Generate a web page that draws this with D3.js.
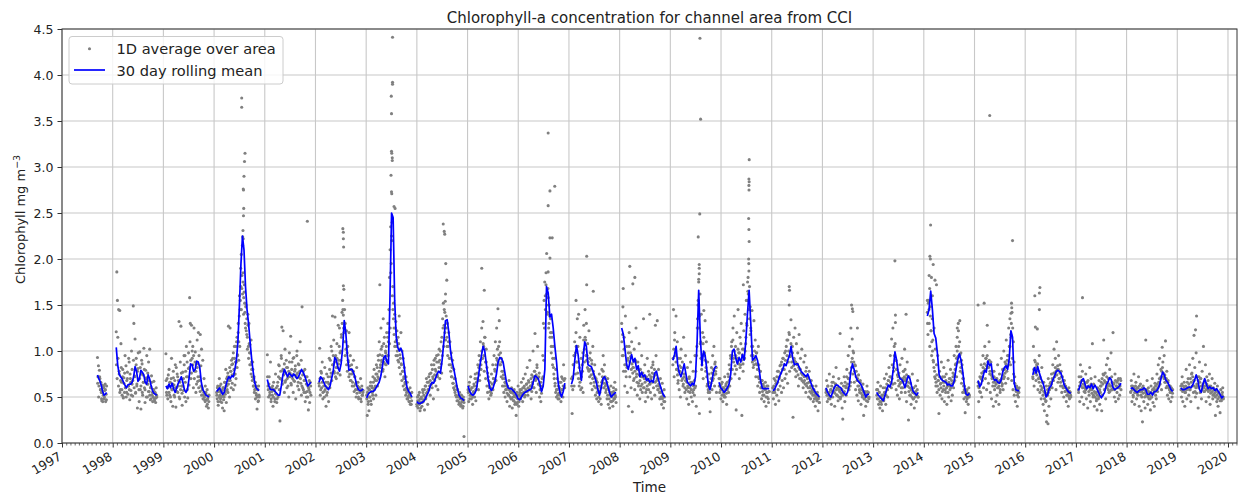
<!DOCTYPE html>
<html>
<head>
<meta charset="utf-8">
<script src="https://cdn.jsdelivr.net/npm/d3@7"></script>
<style>
  body { margin: 0; background: #fff; }
  text { font-family: "DejaVu Sans", sans-serif; fill: #222; }
</style>
</head>
<body>
<div id="chart"></div>
<script>
// segment limits (decimal years) of the 30 day rolling mean, gaps between them
const segStart = [1997.70, 1998.07, 1999.05, 2000.05, 2001.05, 2002.07, 2003.01, 2004.00, 2005.01, 2007.05, 2008.04,
                  2009.05, 2009.96, 2011.02, 2012.07, 2013.07, 2014.07, 2015.07, 2016.15, 2017.05, 2018.08, 2019.07];
const segEnd   = [1997.88, 1998.87, 1999.90, 2000.89, 2001.91, 2002.94, 2003.90, 2004.93, 2006.92, 2007.93, 2008.89,
                  2009.91, 2010.95, 2011.94, 2012.92, 2013.89, 2014.90, 2015.88, 2016.90, 2017.89, 2018.91, 2019.91];

// 30 day rolling mean, evenly spaced inside each segment
const mean1997 = [0.74, 0.70, 0.67, 0.62, 0.56, 0.52, 0.53, 0.55];
const mean1998 = [1.04, 0.85, 0.75, 0.72, 0.70, 0.66, 0.63, 0.60, 0.63, 0.64, 0.64, 0.66, 0.72, 0.83, 0.78, 0.67, 0.70, 0.79, 0.77, 0.74, 0.66, 0.64, 0.74, 0.70, 0.63, 0.57, 0.54, 0.53, 0.52];
const mean1999 = [0.62, 0.59, 0.64, 0.60, 0.65, 0.59, 0.55, 0.60, 0.65, 0.68, 0.72, 0.66, 0.58, 0.55, 0.58, 0.70, 0.86, 0.85, 0.78, 0.80, 0.89, 0.88, 0.82, 0.66, 0.58, 0.55, 0.52, 0.51, 0.50];
const mean2000 = [0.56, 0.58, 0.60, 0.56, 0.53, 0.55, 0.62, 0.68, 0.72, 0.70, 0.73, 0.72, 0.80, 0.90, 1.10, 1.50, 1.95, 2.25, 2.10, 1.70, 1.45, 1.30, 1.10, 0.92, 0.78, 0.66, 0.60, 0.58, 0.57];
const mean2001 = [0.69, 0.62, 0.58, 0.58, 0.58, 0.56, 0.54, 0.52, 0.52, 0.62, 0.74, 0.80, 0.76, 0.72, 0.76, 0.74, 0.72, 0.75, 0.73, 0.70, 0.72, 0.76, 0.80, 0.77, 0.73, 0.68, 0.62, 0.64, 0.66];
const mean2002 = [0.66, 0.72, 0.70, 0.66, 0.62, 0.60, 0.58, 0.62, 0.70, 0.78, 0.93, 0.90, 0.82, 0.78, 0.86, 1.03, 1.33, 1.20, 0.95, 0.79, 0.80, 0.80, 0.76, 0.70, 0.62, 0.58, 0.57, 0.57, 0.59];
const mean2003 = [0.49, 0.53, 0.55, 0.56, 0.56, 0.57, 0.60, 0.63, 0.66, 0.72, 0.82, 0.93, 0.95, 0.88, 0.86, 1.60, 2.50, 2.45, 1.55, 1.15, 1.04, 1.00, 1.03, 0.98, 0.85, 0.70, 0.60, 0.56, 0.54, 0.50];
const mean2004 = [0.45, 0.43, 0.43, 0.44, 0.45, 0.48, 0.52, 0.56, 0.62, 0.66, 0.65, 0.70, 0.75, 0.78, 0.76, 0.90, 1.10, 1.33, 1.34, 1.20, 1.00, 0.88, 0.80, 0.70, 0.60, 0.52, 0.49, 0.48, 0.46];
const mean2005 = [0.62, 0.56, 0.53, 0.52, 0.54, 0.58, 0.70, 0.83, 0.95, 1.05, 1.00, 0.85, 0.70, 0.60, 0.57, 0.60, 0.66, 0.75, 0.88, 0.93,
                  0.92, 0.88, 0.77, 0.66, 0.60, 0.59, 0.59, 0.57, 0.55, 0.52, 0.48, 0.47, 0.50, 0.53, 0.55, 0.56, 0.57, 0.58, 0.59, 0.66,
                  0.73, 0.72, 0.70, 0.64, 0.56, 0.62, 0.80, 1.70, 1.63, 1.37, 1.40, 1.25, 1.05, 0.88, 0.65, 0.55, 0.50, 0.56, 0.65];
const mean2007 = [0.64, 0.70, 0.90, 1.06, 0.96, 0.80, 0.68, 0.92, 1.10, 1.05, 0.85, 0.84, 0.83, 0.78, 0.72, 0.66, 0.58, 0.52, 0.60, 0.70, 0.72, 0.68, 0.62, 0.55, 0.50, 0.52, 0.54, 0.55];
const mean2008 = [1.25, 1.18, 1.02, 0.85, 0.80, 0.88, 0.96, 0.88, 0.92, 0.80, 0.84, 0.72, 0.77, 0.72, 0.74, 0.68, 0.70, 0.66, 0.68, 0.66, 0.76, 0.78, 0.70, 0.64, 0.58, 0.53, 0.50];
const mean2009 = [0.90, 0.96, 1.05, 0.85, 0.76, 0.72, 0.78, 0.86, 0.76, 0.66, 0.64, 0.62, 0.65, 0.63, 0.72, 1.10, 1.66, 1.15, 0.84, 1.00, 0.95, 0.80, 0.62, 0.58, 0.66, 0.76, 0.82, 0.84];
const mean2010 = [0.66, 0.60, 0.58, 0.55, 0.57, 0.60, 0.64, 0.75, 1.00, 1.02, 0.92, 0.86, 0.93, 0.88, 0.96, 0.90, 1.10, 1.40, 1.66, 1.30, 0.90, 0.92, 0.95, 0.90, 0.80, 0.66, 0.59, 0.59, 0.59, 0.59, 0.59];
const mean2011 = [0.57, 0.58, 0.62, 0.66, 0.72, 0.76, 0.80, 0.86, 0.84, 0.90, 0.95, 1.05, 0.92, 0.85, 0.86, 0.86, 0.82, 0.78, 0.76, 0.74, 0.72, 0.75, 0.70, 0.65, 0.60, 0.57, 0.54, 0.52, 0.50];
const mean2012 = [0.60, 0.55, 0.52, 0.50, 0.55, 0.60, 0.63, 0.63, 0.61, 0.60, 0.56, 0.54, 0.52, 0.55, 0.62, 0.78, 0.86, 0.80, 0.72, 0.68, 0.66, 0.64, 0.60, 0.55, 0.50, 0.53, 0.53];
const mean2013 = [0.55, 0.52, 0.50, 0.48, 0.46, 0.52, 0.58, 0.63, 0.61, 0.66, 0.80, 0.99, 0.90, 0.76, 0.70, 0.69, 0.66, 0.60, 0.67, 0.73, 0.70, 0.62, 0.56, 0.54, 0.52, 0.55];
const mean2014 = [1.38, 1.45, 1.65, 1.45, 1.19, 1.14, 0.97, 0.74, 0.70, 0.68, 0.67, 0.66, 0.63, 0.64, 0.62, 0.62, 0.68, 0.80, 0.90, 0.97, 0.90, 0.78, 0.62, 0.53, 0.52, 0.54];
const mean2015 = [0.68, 0.61, 0.64, 0.72, 0.79, 0.77, 0.89, 0.84, 0.86, 0.72, 0.68, 0.69, 0.66, 0.65, 0.68, 0.77, 0.82, 0.84, 0.80, 0.92, 1.22, 1.15, 0.65, 0.58, 0.57, 0.57];
const mean2016 = [0.74, 0.82, 0.76, 0.83, 0.76, 0.70, 0.66, 0.60, 0.50, 0.53, 0.60, 0.62, 0.68, 0.72, 0.77, 0.79, 0.78, 0.76, 0.70, 0.63, 0.60, 0.57, 0.55, 0.54];
const mean2017 = [0.57, 0.62, 0.68, 0.70, 0.64, 0.59, 0.62, 0.60, 0.64, 0.59, 0.63, 0.60, 0.56, 0.52, 0.49, 0.52, 0.55, 0.63, 0.66, 0.71, 0.69, 0.61, 0.58, 0.59, 0.60, 0.62, 0.65];
const mean2018 = [0.59, 0.60, 0.58, 0.56, 0.55, 0.57, 0.58, 0.58, 0.60, 0.58, 0.53, 0.53, 0.55, 0.52, 0.56, 0.56, 0.58, 0.62, 0.70, 0.77, 0.74, 0.68, 0.66, 0.62, 0.58, 0.56];
const mean2019 = [0.60, 0.58, 0.58, 0.59, 0.60, 0.61, 0.60, 0.63, 0.68, 0.74, 0.68, 0.58, 0.55, 0.64, 0.70, 0.64, 0.59, 0.61, 0.59, 0.60, 0.57, 0.59, 0.56, 0.53, 0.49, 0.51];

// 1D average over area, evenly spaced inside each segment
const daily1997 = [0.93, 0.72, 0.84, 0.62, 0.79, 0.70, 0.58, 0.66, 0.55, 0.46, 0.63, 0.45, 0.52, 0.60, 0.48, 0.57, 0.64, 0.45, 0.53, 0.62];
const daily1998 = [1.21, 1.86, 1.55, 0.92, 1.45, 0.75, 1.44, 0.58, 1.08, 0.66, 0.52, 0.80, 0.49, 0.71, 0.55, 0.95, 0.60, 0.50, 0.68, 0.77,
                   0.53, 0.62, 0.88, 0.47, 0.70, 0.57, 1.00, 0.64, 0.51, 1.49, 1.30, 0.73, 1.13, 0.55, 0.92, 0.62, 0.38, 0.81, 0.69, 0.45,
                   0.99, 0.58, 0.37, 0.75, 0.86, 0.52, 0.66, 1.03, 0.60, 0.44, 0.79, 0.71, 0.95, 0.50, 0.64, 0.88, 0.56, 1.02, 0.47, 0.61,
                   0.73, 0.52, 0.45, 0.58, 0.67, 0.48, 0.55, 0.44, 0.60, 0.50];
const daily1999 = [0.97, 0.55, 0.70, 0.48, 0.62, 0.80, 0.52, 0.66, 0.45, 0.92, 0.58, 0.40, 0.71, 0.63, 0.50, 0.85, 0.39, 0.60, 0.75, 0.55,
                   0.68, 1.32, 0.48, 0.88, 1.27, 0.62, 0.41, 0.77, 0.57, 0.95, 0.50, 0.66, 0.45, 0.72, 0.58, 0.49, 0.81, 0.63, 1.58, 1.30,
                   0.70, 1.28, 0.92, 1.05, 0.60, 1.25, 0.78, 0.99, 0.55, 0.86, 1.12, 0.67, 1.20, 0.95, 0.72, 1.18, 0.84, 1.02, 0.60, 0.90,
                   0.52, 0.70, 0.47, 0.62, 0.55, 0.40, 0.58, 0.48, 0.38, 0.52];
const daily2000 = [0.55, 0.48, 0.62, 0.41, 0.58, 0.70, 0.52, 0.45, 0.64, 0.50, 0.57, 0.38, 0.60, 0.47, 0.35, 0.66, 0.53, 0.80, 0.44, 0.62,
                   0.72, 0.55, 1.27, 0.68, 0.50, 1.25, 0.78, 0.60, 0.85, 0.65, 0.92, 0.58, 0.74, 1.05, 0.63, 0.88, 0.70, 1.10, 0.82, 0.96,
                   1.20, 0.90, 1.38, 1.05, 1.55, 1.70, 1.45, 1.82, 1.62, 1.75, 1.40, 1.64, 1.52, 1.30, 1.48, 1.22, 1.35, 1.15, 1.40, 1.05,
                   1.30, 0.98, 1.07, 0.85, 1.12, 0.80, 0.72, 0.88, 0.62, 0.70, 0.55, 0.66, 0.48, 0.60, 0.52, 0.37, 0.58, 0.45, 0.62, 0.50];
const daily2001 = [0.96, 0.62, 0.50, 0.72, 0.55, 0.88, 0.45, 0.60, 0.52, 0.40, 0.66, 0.57, 0.48, 0.75, 0.53, 0.44, 0.62, 0.50, 0.85, 0.58,
                   0.24, 0.70, 0.95, 1.26, 0.64, 1.22, 0.78, 0.55, 1.02, 0.68, 0.90, 0.60, 0.82, 0.72, 0.50, 0.98, 0.76, 1.16, 0.63, 0.88,
                   0.70, 0.55, 0.93, 0.67, 0.80, 0.48, 0.74, 1.00, 0.62, 0.86, 0.58, 0.71, 1.10, 0.65, 0.52, 1.48, 0.60, 0.78, 0.55, 0.68,
                   0.45, 0.72, 0.50, 0.56, 0.62, 0.36, 0.58, 0.44, 0.66, 0.52];
const daily2002 = [0.65, 1.03, 0.52, 0.78, 0.60, 0.88, 0.48, 0.70, 0.56, 0.82, 0.62, 0.40, 0.75, 0.55, 0.66, 0.45, 0.92, 0.60, 0.72, 1.05,
                   0.68, 1.38, 0.85, 1.12, 0.76, 1.37, 0.95, 0.70, 1.08, 0.82, 1.28, 0.90, 1.25, 0.74, 1.00, 1.15, 1.42, 1.55, 1.39, 1.20,
                   1.45, 1.30, 1.10, 1.22, 0.98, 1.05, 0.88, 1.20, 0.75, 0.95, 0.68, 0.85, 0.62, 0.78, 0.90, 0.56, 0.72, 0.64, 0.50, 0.82,
                   0.58, 0.66, 0.48, 0.60, 0.55, 0.70, 0.45, 0.62, 0.52, 0.57];
const daily2003 = [0.52, 0.30, 0.60, 0.45, 0.35, 0.58, 0.50, 0.66, 0.42, 0.62, 0.55, 0.72, 0.48, 0.80, 0.60, 0.68, 0.52, 0.85, 0.75, 0.62,
                   0.95, 0.70, 1.10, 1.72, 0.82, 1.25, 0.90, 1.05, 0.78, 1.35, 0.88, 1.15, 0.72, 1.00, 0.85, 1.20, 0.95, 1.30, 1.10, 1.45,
                   1.80, 2.10, 2.35, 1.95, 2.20, 1.60, 1.45, 1.52, 1.25, 1.40, 1.10, 1.32, 1.05, 1.22, 0.95, 1.15, 0.88, 1.38, 1.02, 0.92,
                   1.20, 0.85, 1.00, 0.78, 0.92, 0.70, 0.82, 0.64, 0.58, 0.72, 0.55, 0.66, 0.48, 0.58, 0.52, 0.45, 0.60, 0.50, 0.42, 0.55];
const daily2004 = [0.42, 0.50, 0.38, 0.46, 0.55, 0.35, 0.44, 0.48, 0.40, 0.58, 0.45, 0.52, 0.36, 0.62, 0.48, 0.70, 0.55, 0.42, 0.66, 0.58,
                   0.75, 0.52, 0.64, 0.85, 0.60, 0.72, 0.48, 0.90, 0.68, 0.80, 0.62, 0.95, 0.74, 0.58, 0.88, 1.02, 0.70, 0.82, 1.10, 0.76,
                   0.95, 1.25, 1.05, 1.45, 1.20, 1.62, 1.38, 1.15, 1.30, 1.05, 1.20, 0.92, 1.10, 0.85, 0.98, 0.72, 0.90, 0.65, 0.80, 0.58,
                   0.70, 0.52, 0.62, 0.46, 0.58, 0.50, 0.42, 0.55, 0.48, 0.40, 0.52, 0.45, 0.38, 0.50, 0.44];
const daily2005 = [0.58, 0.45, 0.66, 0.52, 0.72, 0.48, 0.60, 0.42, 0.55, 0.64, 0.50, 0.75, 0.46, 0.62, 0.70, 0.85, 0.58, 0.95, 0.68, 1.10,
                   0.80, 1.25, 0.92, 1.32, 1.05, 0.78, 1.15, 0.70, 0.88, 0.62, 0.55, 0.72, 0.48, 0.60, 0.66, 0.52, 0.75, 0.58, 0.85, 0.70,
                   0.95, 0.80, 1.10, 0.68, 1.25, 0.90, 1.46, 1.05, 1.33, 0.85, 0.98, 0.72, 0.88, 0.62, 0.78, 0.55, 0.70, 0.50, 0.65, 0.58,
                   0.45, 0.62, 0.52, 0.68, 0.40, 0.56, 0.48, 0.60, 0.38, 0.54, 0.46, 0.58, 0.42, 0.50, 0.30, 0.55, 0.44, 0.62, 0.40, 0.52,
                   0.58, 0.48, 0.66, 0.54, 0.45, 0.70, 0.60, 0.50, 0.75, 0.56, 0.64, 0.82, 0.52, 0.68, 0.58, 0.90, 0.62, 0.48, 0.74, 0.66,
                   1.00, 0.60, 0.78, 1.19, 0.70, 0.55, 0.85, 1.05, 0.64, 0.72, 0.50, 0.62, 0.45, 0.58, 0.70, 0.95, 1.30, 1.55, 1.75, 1.45,
                   1.85, 1.62, 1.40, 1.68, 1.25, 1.50, 1.15, 1.35, 0.98, 1.20, 0.85, 1.05, 0.75, 0.92, 0.65, 0.80, 0.58, 0.70, 0.52, 0.62,
                   0.48, 0.66, 0.55, 0.45, 0.72, 0.58, 0.50, 0.85, 0.62, 0.70];
const daily2007 = [0.70, 0.32, 0.58, 0.85, 0.62, 0.95, 0.75, 1.20, 0.88, 1.35, 1.05, 1.40, 0.82, 1.15, 0.70, 0.92, 0.60, 0.78, 0.55, 1.28,
                   0.88, 1.45, 1.12, 1.30, 0.95, 1.08, 0.80, 1.22, 0.72, 0.98, 0.65, 0.90, 0.58, 1.05, 0.75, 0.62, 0.85, 0.52, 0.70, 0.48,
                   0.66, 0.58, 0.45, 0.75, 0.55, 0.62, 0.42, 0.80, 0.68, 0.95, 0.60, 0.85, 0.72, 0.55, 0.64, 0.48, 0.70, 0.42, 0.58, 0.38,
                   0.52, 0.62, 0.45, 0.55, 0.40, 0.60, 0.48, 0.66, 0.50, 0.44];
const daily2008 = [1.30, 0.95, 1.48, 0.78, 1.15, 0.62, 1.38, 0.85, 1.05, 0.55, 0.92, 0.40, 1.20, 0.72, 0.98, 0.60, 1.10, 0.34, 0.82, 0.68,
                   1.02, 0.58, 0.90, 1.25, 0.75, 0.52, 0.88, 0.65, 1.08, 0.48, 0.80, 0.62, 0.95, 0.55, 0.72, 1.35, 0.60, 0.85, 0.45, 0.70,
                   0.58, 0.92, 0.50, 0.78, 0.64, 1.40, 0.55, 0.72, 0.48, 0.66, 0.85, 0.60, 0.75, 0.52, 1.28, 0.95, 0.68, 1.33, 0.58, 0.80,
                   0.62, 0.48, 0.70, 0.55, 0.42, 0.65, 0.50, 0.38, 0.58, 0.45];
const daily2009 = [0.85, 1.45, 0.72, 1.20, 0.95, 1.38, 0.80, 1.10, 0.65, 0.92, 0.58, 0.78, 0.50, 1.02, 0.68, 0.88, 0.62, 1.15, 0.75, 0.55,
                   0.95, 0.70, 0.48, 0.82, 0.60, 0.42, 0.72, 0.55, 0.88, 0.50, 0.66, 0.45, 0.78, 0.58, 0.52, 0.95, 0.62, 0.40, 1.05, 1.35,
                   1.55, 1.25, 0.32, 1.62, 1.10, 1.40, 0.85, 1.20, 0.70, 1.44, 0.95, 1.33, 0.78, 1.10, 0.62, 0.88, 0.55, 0.75, 0.48, 0.34,
                   0.65, 0.82, 0.58, 0.95, 0.70, 1.05, 0.62, 0.88, 0.75, 0.55];
const daily2010 = [0.70, 0.55, 0.62, 0.48, 0.58, 0.66, 0.45, 0.60, 0.52, 0.72, 0.50, 0.64, 0.42, 0.58, 0.75, 0.55, 0.85, 0.62, 0.95, 0.70,
                   1.10, 0.80, 1.25, 0.92, 1.38, 0.75, 1.05, 0.36, 1.20, 0.88, 1.45, 0.98, 0.70, 1.15, 0.85, 1.30, 0.30, 1.02, 0.78, 1.22,
                   0.92, 1.40, 1.08, 1.55, 1.28, 1.75, 1.62, 1.45, 1.35, 1.18, 1.25, 0.95, 1.44, 1.05, 0.82, 1.33, 0.90, 1.12, 0.72, 0.98,
                   0.85, 0.62, 1.05, 0.70, 0.55, 0.78, 0.60, 0.48, 0.68, 0.52, 0.62, 0.45, 0.58, 0.66, 0.40, 0.55, 0.50, 0.62, 0.44, 0.56];
const daily2011 = [0.60, 0.48, 0.70, 0.55, 0.42, 0.65, 0.52, 0.78, 0.58, 0.46, 0.72, 0.62, 0.85, 0.55, 0.68, 0.92, 0.60, 0.80, 0.70, 1.00,
                   0.75, 1.12, 0.65, 0.88, 1.20, 0.78, 0.95, 1.34, 0.82, 1.05, 0.28, 1.15, 0.90, 1.25, 0.72, 1.08, 0.85, 0.98, 0.62, 1.18,
                   0.80, 0.92, 0.70, 1.02, 0.75, 0.60, 0.88, 0.68, 0.95, 0.55, 0.82, 0.65, 0.72, 0.50, 0.78, 0.60, 0.48, 0.68, 0.55, 0.62,
                   0.45, 0.58, 0.52, 0.40, 0.62, 0.48, 0.55, 0.35, 0.50, 0.44];
const daily2012 = [0.55, 0.68, 0.45, 0.62, 0.52, 0.75, 0.48, 0.58, 0.42, 0.66, 0.50, 0.72, 0.56, 0.40, 0.64, 0.82, 0.52, 0.60, 0.46, 0.70,
                   0.58, 1.19, 0.50, 0.65, 0.38, 0.26, 0.55, 0.72, 0.45, 0.62, 0.52, 0.80, 0.60, 0.95, 0.70, 1.05, 0.62, 1.25, 0.88, 1.13,
                   0.75, 0.98, 0.66, 0.85, 0.58, 0.78, 0.52, 0.70, 0.46, 0.62, 0.55, 0.68, 0.42, 0.58, 0.50, 0.64, 0.30, 0.48, 0.56, 0.40,
                   0.52, 0.62, 0.45, 0.55, 0.50];
const daily2013 = [0.58, 0.48, 0.66, 0.42, 0.55, 0.38, 0.62, 0.45, 0.52, 0.35, 0.60, 0.48, 0.70, 0.55, 0.42, 0.75, 0.58, 0.50, 0.68, 0.82,
                   0.62, 0.95, 0.72, 1.13, 0.85, 1.25, 0.78, 1.05, 0.65, 0.90, 0.58, 0.80, 0.52, 0.72, 0.62, 0.48, 0.85, 0.66, 0.55, 0.92,
                   0.60, 0.78, 0.68, 1.02, 0.55, 0.70, 0.45, 0.88, 0.62, 0.25, 0.72, 0.52, 0.65, 0.42, 0.58, 0.75, 0.48, 0.60, 0.38, 0.55,
                   0.62, 0.45, 0.52, 0.68, 0.50];
const daily2014 = [1.42, 1.18, 1.55, 1.30, 1.05, 1.48, 1.22, 0.95, 1.35, 1.12, 0.88, 1.25, 0.72, 1.02, 0.62, 0.85, 0.55, 0.95, 0.68, 0.32,
                   0.78, 0.52, 0.65, 0.88, 0.48, 0.72, 0.58, 0.82, 0.45, 0.66, 0.55, 0.75, 0.42, 0.62, 0.90, 0.50, 0.70, 0.58, 0.80, 0.46,
                   0.64, 0.52, 0.76, 0.60, 0.95, 0.68, 0.85, 1.05, 0.72, 1.15, 0.88, 1.22, 0.95, 1.10, 0.78, 0.98, 0.65, 0.85, 0.55, 0.70,
                   0.48, 0.62, 0.33, 0.55, 0.45, 0.58, 0.50, 0.42, 0.60, 0.52];
const daily2015 = [0.62, 0.45, 0.28, 0.72, 0.55, 0.85, 0.50, 0.68, 0.95, 0.60, 0.78, 1.05, 0.70, 0.92, 0.58, 1.28, 0.82, 0.65, 1.10, 0.75,
                   0.55, 0.88, 0.48, 0.72, 0.62, 0.40, 0.78, 0.58, 0.66, 0.45, 0.70, 0.52, 0.85, 0.60, 0.42, 0.75, 0.55, 0.68, 0.92, 0.62,
                   0.80, 0.58, 1.00, 0.72, 0.88, 0.65, 1.12, 0.78, 0.95, 0.70, 1.25, 1.05, 1.35, 0.85, 1.15, 0.68, 0.92, 0.58, 0.75, 0.52,
                   0.65, 0.45, 0.58, 0.62, 0.40, 0.55, 0.50, 0.60];
const daily2016 = [0.72, 1.05, 0.62, 0.90, 1.26, 0.68, 0.85, 1.24, 0.58, 0.78, 0.95, 0.55, 0.70, 0.48, 0.82, 0.60, 0.42, 0.66, 0.35, 0.55,
                   0.45, 0.62, 0.30, 0.52, 0.70, 0.40, 0.58, 0.65, 0.48, 0.75, 0.60, 0.85, 0.68, 1.02, 0.72, 0.92, 0.58, 1.10, 0.80, 0.66,
                   0.95, 0.70, 0.85, 0.62, 0.78, 0.55, 0.72, 0.60, 0.50, 0.68, 0.56, 0.62, 0.45, 0.58, 0.52, 0.40, 0.60, 0.48, 0.55, 0.50];
const daily2017 = [0.58, 0.72, 0.45, 0.85, 0.62, 0.50, 0.78, 0.68, 0.42, 0.60, 0.55, 0.75, 0.48, 0.66, 0.38, 0.62, 0.52, 0.82, 0.45, 0.70,
                   0.58, 1.08, 0.50, 0.64, 0.40, 0.72, 0.55, 0.46, 0.36, 0.60, 0.48, 0.68, 0.42, 0.55, 0.62, 0.35, 0.52, 0.75, 1.12, 0.58,
                   0.66, 0.48, 0.85, 0.60, 0.92, 0.70, 0.55, 0.80, 0.62, 0.98, 0.72, 0.58, 1.20, 0.65, 0.50, 0.75, 0.45, 0.62, 0.55, 0.68,
                   0.48, 0.60, 0.52, 0.70, 0.58];
const daily2018 = [0.55, 0.68, 0.45, 0.62, 0.50, 0.75, 0.42, 0.58, 0.66, 0.48, 0.60, 0.52, 0.72, 0.40, 0.56, 0.64, 0.35, 0.50, 0.23, 0.62,
                   0.45, 0.58, 0.38, 1.12, 0.52, 0.68, 0.42, 0.60, 0.48, 0.55, 0.36, 0.62, 0.50, 0.70, 0.44, 0.58, 0.40, 0.65, 0.52, 0.48,
                   0.75, 0.56, 0.85, 0.62, 0.92, 0.70, 0.80, 0.58, 1.04, 0.88, 0.72, 0.95, 0.66, 1.11, 0.60, 0.78, 0.52, 0.68, 0.48, 0.62,
                   0.55, 0.45, 0.60, 0.50, 0.58];
const daily2019 = [0.62, 0.50, 0.72, 0.45, 0.58, 0.66, 0.40, 0.55, 0.80, 0.48, 0.60, 0.70, 0.52, 0.85, 0.58, 0.45, 0.75, 0.62, 0.92, 0.55,
                   0.68, 0.82, 0.50, 0.98, 0.64, 0.72, 0.38, 0.60, 0.88, 0.55, 0.70, 0.48, 0.78, 0.62, 1.05, 0.56, 0.66, 0.85, 0.45, 0.72,
                   0.58, 0.68, 0.50, 0.75, 0.42, 0.62, 0.55, 0.70, 0.48, 0.60, 0.52, 0.65, 0.30, 0.58, 0.45, 0.62, 0.40, 0.55, 0.50, 0.33,
                   0.58, 0.46, 0.52, 0.60, 0.48];

// more daily values from the dense core of each cloud, also evenly spaced per segment
const core1997 = [0.65, 0.50, 0.72, 0.58, 0.48, 0.55, 0.62, 0.50, 0.58, 0.47];
const core1998 = [0.85, 0.70, 1.15, 0.62, 0.78, 0.55, 0.68, 0.82, 0.58, 0.72, 0.50, 0.65, 0.76, 0.60, 0.84, 0.55, 0.70, 0.62, 0.92, 0.58,
                  0.75, 0.66, 0.52, 0.80, 0.68, 0.90, 0.60, 0.72, 0.54, 0.85, 0.64, 0.78, 0.98, 0.58, 0.70, 0.82, 0.62, 0.90, 0.55, 0.74,
                  0.66, 0.80, 0.58, 0.70, 0.50, 0.64, 0.76, 0.56, 0.68, 0.52, 0.60, 0.48, 0.66, 0.55, 0.50, 0.58, 0.46, 0.54, 0.49, 0.52];
const core1999 = [0.68, 0.52, 0.60, 0.74, 0.55, 0.66, 0.50, 0.70, 0.58, 0.64, 0.78, 0.52, 0.68, 0.60, 0.82, 0.56, 0.72, 0.62, 0.50, 0.66,
                  0.58, 0.76, 0.54, 0.62, 0.70, 0.85, 0.95, 0.78, 1.05, 0.88, 0.72, 0.98, 0.82, 1.10, 0.90, 0.76, 1.00, 0.85, 0.95, 0.70,
                  0.88, 0.78, 0.64, 0.82, 0.72, 0.60, 0.68, 0.56, 0.62, 0.52, 0.58, 0.48, 0.55, 0.50, 0.45, 0.53, 0.47, 0.42, 0.50, 0.45];
const core2000 = [0.52, 0.60, 0.45, 0.56, 0.50, 0.62, 0.48, 0.55, 0.44, 0.58, 0.52, 0.60, 0.50, 0.66, 0.56, 0.62, 0.70, 0.58, 0.76, 0.64,
                  0.72, 0.82, 0.68, 0.78, 0.90, 0.74, 0.86, 0.98, 0.80, 0.92, 0.75, 1.05, 0.88, 1.15, 0.95, 1.30, 1.10, 1.60, 1.45, 1.90,
                  2.05, 1.68, 2.15, 1.85, 1.58, 1.72, 1.42, 1.25, 1.50, 1.18, 1.02, 1.28, 0.92, 1.08, 0.85, 0.98, 0.75, 0.88, 0.68, 0.80,
                  0.62, 0.72, 0.58, 0.66, 0.54, 0.62, 0.50, 0.58, 0.46, 0.52];
const core2001 = [0.72, 0.58, 0.64, 0.52, 0.60, 0.48, 0.56, 0.62, 0.50, 0.58, 0.45, 0.54, 0.60, 0.48, 0.66, 0.72, 0.84, 0.70, 0.78, 0.92,
                  0.68, 0.80, 0.74, 0.86, 0.66, 0.76, 0.82, 0.70, 0.62, 0.78, 0.88, 0.72, 0.65, 0.80, 0.74, 0.92, 0.68, 0.78, 0.84, 0.72,
                  0.95, 0.76, 0.66, 0.85, 0.78, 0.70, 0.90, 0.62, 0.74, 0.58, 0.68, 0.80, 0.55, 0.64, 0.72, 0.50, 0.60, 0.68, 0.55, 0.62];
const core2002 = [0.62, 0.70, 0.58, 0.76, 0.66, 0.55, 0.62, 0.50, 0.58, 0.66, 0.52, 0.60, 0.72, 0.64, 0.80, 0.90, 0.76, 1.00, 0.85, 0.95,
                  0.78, 0.88, 0.72, 0.82, 0.92, 0.76, 0.86, 1.05, 0.98, 0.90, 1.18, 1.30, 1.45, 1.25, 1.10, 0.95, 1.02, 0.85, 0.78, 0.90,
                  0.72, 0.84, 0.68, 0.80, 0.75, 0.66, 0.78, 0.62, 0.72, 0.58, 0.66, 0.54, 0.62, 0.50, 0.60, 0.56, 0.48, 0.58, 0.52, 0.55];
const core2003 = [0.48, 0.55, 0.42, 0.58, 0.50, 0.62, 0.46, 0.56, 0.60, 0.52, 0.66, 0.58, 0.70, 0.62, 0.75, 0.68, 0.82, 0.72, 0.90, 0.78,
                  0.96, 0.85, 1.02, 0.88, 0.95, 0.80, 1.08, 0.92, 0.86, 0.98, 1.05, 0.90, 1.15, 0.95, 1.20, 1.08, 1.25, 1.85, 2.25, 2.40,
                  1.70, 1.35, 1.18, 1.05, 1.25, 0.95, 1.12, 1.00, 0.90, 1.08, 0.82, 0.96, 0.75, 0.86, 0.68, 0.78, 0.62, 0.72, 0.58, 0.66,
                  0.52, 0.60, 0.48, 0.56, 0.50, 0.45, 0.54, 0.42, 0.50, 0.46];
const core2004 = [0.40, 0.46, 0.52, 0.42, 0.48, 0.38, 0.50, 0.44, 0.55, 0.47, 0.58, 0.50, 0.62, 0.54, 0.66, 0.58, 0.72, 0.62, 0.68, 0.76,
                  0.64, 0.80, 0.70, 0.85, 0.74, 0.92, 0.78, 0.88, 0.72, 0.96, 0.82, 0.90, 1.00, 0.86, 1.15, 1.35, 1.52, 1.28, 1.42, 1.12,
                  1.25, 1.05, 0.95, 1.10, 0.85, 0.92, 0.78, 0.72, 0.82, 0.65, 0.60, 0.70, 0.55, 0.62, 0.50, 0.58, 0.46, 0.52, 0.44, 0.50,
                  0.42, 0.48, 0.45, 0.40, 0.47];
const core2005 = [0.55, 0.62, 0.48, 0.58, 0.52, 0.60, 0.50, 0.56, 0.62, 0.70, 0.58, 0.66, 0.76, 0.68, 0.82, 0.74, 0.90, 0.85, 1.00, 0.92,
                  1.08, 0.95, 1.15, 0.88, 1.02, 0.82, 0.76, 0.68, 0.62, 0.56, 0.60, 0.54, 0.64, 0.58, 0.70, 0.66, 0.78, 0.85, 0.92, 1.02,
                  0.88, 0.96, 1.10, 0.85, 0.92, 0.78, 0.70, 0.74, 0.62, 0.66, 0.58, 0.62, 0.54, 0.60, 0.52, 0.58, 0.50, 0.55, 0.48, 0.56,
                  0.50, 0.46, 0.52, 0.44, 0.50, 0.42, 0.48, 0.52, 0.45, 0.55, 0.50, 0.58, 0.52, 0.60, 0.55, 0.62, 0.52, 0.58, 0.64, 0.56,
                  0.60, 0.66, 0.58, 0.62, 0.70, 0.56, 0.64, 0.72, 0.60, 0.78, 0.68, 0.74, 0.82, 0.70, 0.64, 0.76, 0.58, 0.66, 0.54, 0.62,
                  0.72, 0.90, 1.25, 1.60, 1.72, 1.50, 1.42, 1.58, 1.30, 1.38, 1.20, 1.05, 1.15, 0.92, 0.82, 0.70, 0.62, 0.55, 0.50, 0.58,
                  0.48, 0.54, 0.60, 0.52, 0.66, 0.58, 0.70, 0.62, 0.68, 0.60];
const core2007 = [0.62, 0.72, 0.85, 0.95, 1.10, 0.98, 1.05, 0.88, 0.76, 0.70, 0.62, 0.66, 0.58, 0.72, 0.85, 0.98, 1.12, 1.02, 1.15, 0.95,
                  0.90, 0.82, 0.88, 0.78, 0.92, 0.80, 0.74, 0.86, 0.70, 0.78, 0.66, 0.72, 0.60, 0.68, 0.55, 0.62, 0.50, 0.56, 0.48, 0.60,
                  0.66, 0.72, 0.78, 0.65, 0.70, 0.62, 0.58, 0.66, 0.52, 0.60, 0.48, 0.55, 0.45, 0.52, 0.50, 0.46, 0.56, 0.48, 0.52, 0.58];
const core2008 = [1.10, 1.18, 0.95, 1.02, 0.85, 0.78, 0.72, 0.82, 0.90, 0.98, 1.05, 0.88, 0.94, 0.80, 0.86, 0.76, 0.82, 0.70, 0.78, 0.88,
                  0.72, 0.66, 0.80, 0.62, 0.74, 0.68, 0.58, 0.72, 0.64, 0.76, 0.60, 0.70, 0.66, 0.55, 0.72, 0.62, 0.68, 0.58, 0.74, 0.64,
                  0.70, 0.82, 0.76, 0.88, 0.72, 0.80, 0.66, 0.74, 0.62, 0.70, 0.58, 0.64, 0.55, 0.60, 0.50, 0.56, 0.48, 0.52, 0.45, 0.50];
const core2009 = [0.92, 1.02, 1.12, 0.98, 0.88, 0.80, 0.74, 0.68, 0.78, 0.84, 0.92, 0.82, 0.76, 0.70, 0.64, 0.72, 0.60, 0.68, 0.58, 0.66,
                  0.62, 0.56, 0.70, 0.60, 0.66, 0.58, 0.64, 0.55, 0.62, 0.68, 0.60, 0.78, 0.95, 1.25, 1.50, 1.75, 1.38, 1.08, 0.92, 0.80,
                  0.96, 1.08, 1.15, 0.98, 0.90, 0.82, 0.72, 0.64, 0.58, 0.66, 0.55, 0.62, 0.70, 0.76, 0.68, 0.80, 0.74, 0.86, 0.78, 0.82];
const core2010 = [0.62, 0.70, 0.58, 0.64, 0.52, 0.60, 0.55, 0.50, 0.58, 0.62, 0.54, 0.66, 0.60, 0.72, 0.68, 0.80, 0.92, 1.05, 0.95, 1.12,
                  0.88, 1.00, 0.84, 0.95, 0.80, 0.92, 1.02, 0.86, 0.98, 0.82, 1.08, 0.90, 0.96, 0.86, 1.02, 0.92, 1.00, 1.15, 1.30, 1.55,
                  1.80, 1.95, 1.70, 1.48, 1.22, 1.05, 0.88, 0.95, 0.85, 1.00, 0.92, 0.86, 0.98, 0.80, 0.72, 0.85, 0.66, 0.78, 0.60, 0.68,
                  0.56, 0.64, 0.52, 0.60, 0.58, 0.50, 0.62, 0.55, 0.48, 0.56];
const core2011 = [0.55, 0.62, 0.58, 0.68, 0.64, 0.72, 0.66, 0.78, 0.70, 0.84, 0.76, 0.88, 0.80, 0.92, 0.85, 0.98, 0.90, 1.05, 0.95, 1.12,
                  1.00, 1.18, 0.94, 1.08, 0.88, 0.98, 0.84, 0.92, 0.80, 0.88, 0.78, 0.86, 0.74, 0.82, 0.70, 0.80, 0.76, 0.68, 0.74, 0.66,
                  0.72, 0.64, 0.78, 0.62, 0.70, 0.60, 0.66, 0.56, 0.62, 0.54, 0.58, 0.52, 0.56, 0.48, 0.54, 0.50, 0.46, 0.52, 0.48, 0.44];
const core2012 = [0.58, 0.52, 0.62, 0.48, 0.55, 0.50, 0.58, 0.62, 0.56, 0.66, 0.60, 0.54, 0.64, 0.58, 0.52, 0.60, 0.50, 0.56, 0.48, 0.54,
                  0.58, 0.52, 0.62, 0.56, 0.66, 0.60, 0.72, 0.64, 0.70, 0.58, 0.76, 0.66, 0.82, 0.92, 1.00, 0.88, 0.78, 0.84, 0.72, 0.68,
                  0.62, 0.74, 0.58, 0.66, 0.54, 0.60, 0.52, 0.56, 0.48, 0.54, 0.50, 0.46, 0.56, 0.50, 0.48];
const core2013 = [0.52, 0.58, 0.48, 0.55, 0.45, 0.50, 0.42, 0.48, 0.52, 0.46, 0.55, 0.60, 0.52, 0.64, 0.58, 0.68, 0.62, 0.72, 0.66, 0.60,
                  0.70, 0.64, 0.82, 0.95, 1.08, 0.90, 0.80, 0.74, 0.68, 0.76, 0.64, 0.70, 0.60, 0.66, 0.70, 0.78, 0.72, 0.80, 0.68, 0.74,
                  0.62, 0.66, 0.56, 0.60, 0.52, 0.58, 0.50, 0.55, 0.48, 0.54, 0.50, 0.56, 0.52, 0.58, 0.50];
const core2014 = [1.30, 1.52, 1.45, 1.68, 1.38, 1.22, 1.10, 1.00, 0.90, 0.82, 0.78, 0.70, 0.66, 0.74, 0.62, 0.68, 0.58, 0.72, 0.64, 0.60,
                  0.70, 0.56, 0.66, 0.62, 0.72, 0.58, 0.68, 0.60, 0.64, 0.55, 0.66, 0.62, 0.70, 0.60, 0.68, 0.64, 0.72, 0.66, 0.74, 0.80,
                  0.86, 0.92, 1.00, 0.94, 1.05, 0.88, 0.96, 0.82, 0.90, 0.76, 0.70, 0.62, 0.58, 0.55, 0.50, 0.56, 0.48, 0.52, 0.54, 0.50];
const core2015 = [0.66, 0.60, 0.56, 0.64, 0.70, 0.76, 0.72, 0.82, 0.78, 0.86, 0.80, 0.92, 0.84, 0.95, 0.88, 0.82, 0.90, 0.78, 0.85, 0.74,
                  0.70, 0.78, 0.66, 0.72, 0.62, 0.68, 0.64, 0.70, 0.60, 0.66, 0.62, 0.68, 0.58, 0.66, 0.70, 0.64, 0.74, 0.70, 0.80, 0.76,
                  0.86, 0.82, 0.90, 0.84, 0.95, 0.88, 1.05, 1.18, 1.30, 1.42, 1.25, 1.10, 0.88, 0.72, 0.62, 0.56, 0.60, 0.52, 0.58, 0.55];
const core2016 = [0.70, 0.80, 0.76, 0.88, 0.82, 0.74, 0.86, 0.70, 0.66, 0.72, 0.62, 0.58, 0.66, 0.52, 0.56, 0.48, 0.54, 0.46, 0.52, 0.58,
                  0.55, 0.62, 0.60, 0.66, 0.64, 0.70, 0.68, 0.76, 0.72, 0.82, 0.78, 0.74, 0.84, 0.80, 0.70, 0.76, 0.66, 0.72, 0.62, 0.68,
                  0.60, 0.64, 0.56, 0.60, 0.52, 0.58, 0.55, 0.50, 0.56, 0.52];
const core2017 = [0.55, 0.62, 0.66, 0.72, 0.68, 0.60, 0.64, 0.56, 0.62, 0.58, 0.66, 0.60, 0.68, 0.56, 0.62, 0.58, 0.64, 0.54, 0.60, 0.52,
                  0.56, 0.50, 0.54, 0.48, 0.52, 0.56, 0.50, 0.58, 0.62, 0.66, 0.70, 0.64, 0.74, 0.68, 0.76, 0.66, 0.72, 0.62, 0.58, 0.64,
                  0.56, 0.62, 0.58, 0.66, 0.60, 0.64, 0.58, 0.68, 0.62, 0.66, 0.60, 0.70, 0.64, 0.62, 0.68];
const core2018 = [0.56, 0.62, 0.58, 0.52, 0.60, 0.55, 0.62, 0.58, 0.54, 0.60, 0.56, 0.62, 0.58, 0.52, 0.56, 0.60, 0.54, 0.58, 0.50, 0.55,
                  0.52, 0.58, 0.50, 0.56, 0.52, 0.48, 0.55, 0.50, 0.58, 0.54, 0.60, 0.56, 0.62, 0.58, 0.64, 0.60, 0.66, 0.70, 0.64, 0.72,
                  0.78, 0.82, 0.76, 0.70, 0.74, 0.66, 0.70, 0.62, 0.66, 0.60, 0.58, 0.62, 0.55, 0.58, 0.54];
const core2019 = [0.58, 0.64, 0.56, 0.62, 0.60, 0.55, 0.62, 0.58, 0.66, 0.60, 0.64, 0.58, 0.70, 0.66, 0.76, 0.72, 0.68, 0.62, 0.56, 0.60,
                  0.54, 0.62, 0.68, 0.72, 0.66, 0.70, 0.62, 0.58, 0.64, 0.60, 0.56, 0.62, 0.58, 0.64, 0.60, 0.56, 0.62, 0.58, 0.54, 0.60,
                  0.56, 0.52, 0.58, 0.54, 0.50, 0.56, 0.52, 0.48, 0.54, 0.50, 0.46, 0.52, 0.48, 0.55, 0.50];

// high daily values placed by date (decimal year)
const spikeDates = [2000.545, 2000.545, 2000.61, 2000.60, 2000.59, 2000.575, 2000.58, 2000.585, 2000.58, 2000.57, 2000.565, 2000.575,
  2001.84,
  2002.54, 2002.55, 2002.55, 2002.555, 2002.55, 2002.56,
  2003.52, 2003.52, 2003.52, 2003.495, 2003.50, 2003.50, 2003.505, 2003.515, 2003.515, 2003.49, 2003.50, 2003.505, 2003.55, 2003.57,
  2004.52, 2004.54, 2004.55, 2004.57, 2004.59, 2004.56, 2004.93,
  2005.28, 2005.33,
  2006.59, 2006.72, 2006.625, 2006.59, 2006.625, 2006.67, 2006.56, 2006.625, 2006.59,
  2007.35, 2007.35, 2007.48, 2007.14,
  2008.20, 2008.30, 2008.26, 2008.07,
  2009.584, 2009.597, 2009.58, 2009.55, 2009.57, 2009.57, 2009.57, 2009.56,
  2010.556, 2010.55, 2010.555, 2010.55, 2010.552, 2010.545, 2010.55, 2010.555, 2010.545, 2010.55, 2010.44, 2010.53,
  2011.345, 2011.35, 2011.345,
  2012.575, 2012.59, 2012.60, 2012.69,
  2013.43, 2013.44, 2013.44, 2013.65,
  2014.134, 2014.12, 2014.13, 2014.185, 2014.105, 2014.15, 2014.22, 2014.25, 2014.17, 2014.07, 2014.71, 2014.68, 2014.66,
  2015.30, 2015.75, 2015.07, 2015.19, 2015.73, 2015.735, 2015.72,
  2016.29, 2016.28, 2016.19, 2016.28, 2016.42, 2016.45,
  2017.13,
  2019.38, 2019.36, 2019.33];
const spikeValues = [3.75, 3.65, 3.15, 3.06, 2.90, 2.76, 2.75, 2.55, 2.47, 2.31, 2.24, 2.22,
  2.41,
  2.33, 2.29, 2.22, 2.13, 1.71, 1.67,
  4.41, 3.92, 3.90, 3.77, 3.58, 3.17, 3.15, 3.10, 3.07, 2.91, 2.73, 2.71, 2.57, 2.55,
  2.38, 2.30, 2.27, 1.95, 1.77, 1.54, 0.07,
  1.90, 1.66,
  3.37, 2.79, 2.74, 2.58, 2.23, 2.23, 2.06, 2.01, 1.86,
  2.03, 1.72, 1.65, 1.55,
  1.92, 1.80, 1.73, 1.68,
  4.40, 3.52, 2.49, 2.24, 1.94, 1.90, 1.84, 1.78,
  3.08, 2.87, 2.84, 2.80, 2.75, 2.44, 2.32, 2.19, 2.00, 1.87, 1.72, 1.65,
  1.70, 1.66, 1.50,
  1.50, 1.46, 1.43, 1.25,
  1.98, 1.39, 1.31, 1.40,
  2.37, 2.03, 2.00, 1.94, 1.82, 1.80, 1.77, 1.72, 1.60, 1.55, 1.33, 1.30, 1.25,
  3.56, 2.20, 1.50, 1.52, 1.52, 1.47, 1.41,
  1.69, 1.63, 1.60, 1.45, 0.23, 0.21,
  1.58,
  1.38, 1.23, 1.17];

const yearTicks = d3.range(1997, 2021);
const yTicks = [0, 0.5, 1.0, 1.5, 2.0, 2.5, 3.0, 3.5, 4.0, 4.5];

const meanSeries = [mean1997, mean1998, mean1999, mean2000, mean2001, mean2002, mean2003, mean2004, mean2005, mean2007, mean2008,
                    mean2009, mean2010, mean2011, mean2012, mean2013, mean2014, mean2015, mean2016, mean2017, mean2018, mean2019];
const dailySeries = [daily1997, daily1998, daily1999, daily2000, daily2001, daily2002, daily2003, daily2004, daily2005, daily2007, daily2008,
                     daily2009, daily2010, daily2011, daily2012, daily2013, daily2014, daily2015, daily2016, daily2017, daily2018, daily2019];
const coreSeries = [core1997, core1998, core1999, core2000, core2001, core2002, core2003, core2004, core2005, core2007, core2008,
                    core2009, core2010, core2011, core2012, core2013, core2014, core2015, core2016, core2017, core2018, core2019];

// spread values evenly over a segment
function spread(vals, s, e) {
    return vals.map((v, i) => ({ t: s + i * (e - s) / (vals.length - 1), v: v }));
}

const lines = meanSeries.map((m, k) => spread(m, segStart[k], segEnd[k]));
let dots = [];
dailySeries.forEach((d, k) => { dots = dots.concat(spread(d, segStart[k], segEnd[k])); });
coreSeries.forEach((d, k) => { dots = dots.concat(spread(d, segStart[k] + 0.004, segEnd[k] - 0.004)); });
spikeDates.forEach((t, i) => dots.push({ t: t, v: spikeValues[i] }));

var W = 1238, H = 497;
var pl = 62, pr = 1237, pt = 29, pb = 443;

var svg = d3.select('#chart').append('svg')
    .attr('width', W)
    .attr('height', H);
svg.append('rect').attr('width', W).attr('height', H).attr('fill', '#fff');

let x = d3.scaleLinear().domain([1997, 2020.178]).range([pl, pr]);
let y = d3.scaleLinear().domain([0, 4.5]).range([pb, pt]);

// grid
svg.append('g').selectAll('line').data(yearTicks).enter().append('line')
    .attr('x1', d => x(d)).attr('x2', d => x(d))
    .attr('y1', pt).attr('y2', pb)
    .attr('stroke', '#c8c8c8').attr('stroke-width', 1.1);
svg.append('g').selectAll('line').data(yTicks).enter().append('line')
    .attr('x1', pl).attr('x2', pr)
    .attr('y1', d => y(d)).attr('y2', d => y(d))
    .attr('stroke', '#c8c8c8').attr('stroke-width', 1.1);

// daily points
svg.append('g').selectAll('circle').data(dots).enter().append('circle')
    .attr('cx', d => x(d.t))
    .attr('cy', d => y(d.v))
    .attr('r', 1.55)
    .attr('fill', '#808080');

// rolling mean
let line = d3.line().x(d => x(d.t)).y(d => y(d.v));
svg.append('g').selectAll('path').data(lines).enter().append('path')
    .attr('d', line)
    .attr('fill', 'none')
    .attr('stroke', '#0000ff')
    .attr('stroke-width', 1.7)
    .attr('stroke-linejoin', 'round');

// axes
let months = d3.range(1997, 2020.17, 1 / 12).filter(m => Math.abs(m - Math.round(m)) > 0.01);
svg.append('g')
    .attr('transform', `translate(0,${pb})`)
    .call(d3.axisBottom(x).tickValues(months).tickSize(2.5).tickFormat(''))
    .call(g => g.select('.domain').remove())
    .call(g => g.selectAll('line').attr('stroke', '#444').attr('stroke-width', 0.8));

let xAxis = svg.append('g')
    .attr('transform', `translate(0,${pb})`)
    .call(d3.axisBottom(x).tickValues(yearTicks).tickSize(4.5).tickFormat(d3.format('d')));
xAxis.select('.domain').remove();
xAxis.selectAll('line').attr('stroke', '#333');
xAxis.selectAll('text')
    .attr('y', 0).attr('dy', 0)
    .attr('transform', 'translate(0,16) rotate(-30)')
    .attr('text-anchor', 'end')
    .style('font-size', '12.5px')
    .style('font-family', '"DejaVu Sans", sans-serif')
    .attr('fill', '#222');

let yAxis = svg.append('g')
    .attr('transform', `translate(${pl},0)`)
    .call(d3.axisLeft(y).tickValues(yTicks).tickSize(4.5).tickPadding(4).tickFormat(d3.format('.1f')));
yAxis.select('.domain').remove();
yAxis.selectAll('line').attr('stroke', '#333');
yAxis.selectAll('text')
    .style('font-size', '12.5px')
    .style('font-family', '"DejaVu Sans", sans-serif')
    .attr('fill', '#222');

// frame
svg.append('rect')
    .attr('x', pl).attr('y', pt)
    .attr('width', pr - pl).attr('height', pb - pt)
    .attr('fill', 'none').attr('stroke', '#333').attr('stroke-width', 1);

// titles
svg.append('text')
    .attr('x', (pl + pr) / 2).attr('y', 23)
    .attr('text-anchor', 'middle')
    .style('font-size', '15px')
    .text('Chlorophyll-a concentration for channel area from CCI');
svg.append('text')
    .attr('x', (pl + pr) / 2).attr('y', 492)
    .attr('text-anchor', 'middle')
    .style('font-size', '13.5px')
    .text('Time');
let ylab = svg.append('text')
    .attr('transform', 'translate(25,284) rotate(-90)')
    .attr('text-anchor', 'start')
    .style('font-size', '13px');
ylab.append('tspan').text('Chlorophyll mg m');
ylab.append('tspan').attr('dy', -5).style('font-size', '9.5px').text('\u22123');

// legend
let lg = svg.append('g');
lg.append('rect')
    .attr('x', 69).attr('y', 36.5).attr('width', 214).attr('height', 47.5)
    .attr('rx', 3).attr('fill', '#fff').attr('fill-opacity', 0.8)
    .attr('stroke', '#cccccc').attr('stroke-width', 1);
lg.append('circle').attr('cx', 89.5).attr('cy', 48.7).attr('r', 1.55).attr('fill', '#808080');
lg.append('line').attr('x1', 74).attr('x2', 105).attr('y1', 70).attr('y2', 70)
    .attr('stroke', '#0000ff').attr('stroke-width', 1.7);
lg.append('text').attr('x', 116.5).attr('y', 54.3).style('font-size', '14.6px').text('1D average over area');
lg.append('text').attr('x', 116.5).attr('y', 75.8).style('font-size', '14.6px').text('30 day rolling mean');
</script>
</body>
</html>
